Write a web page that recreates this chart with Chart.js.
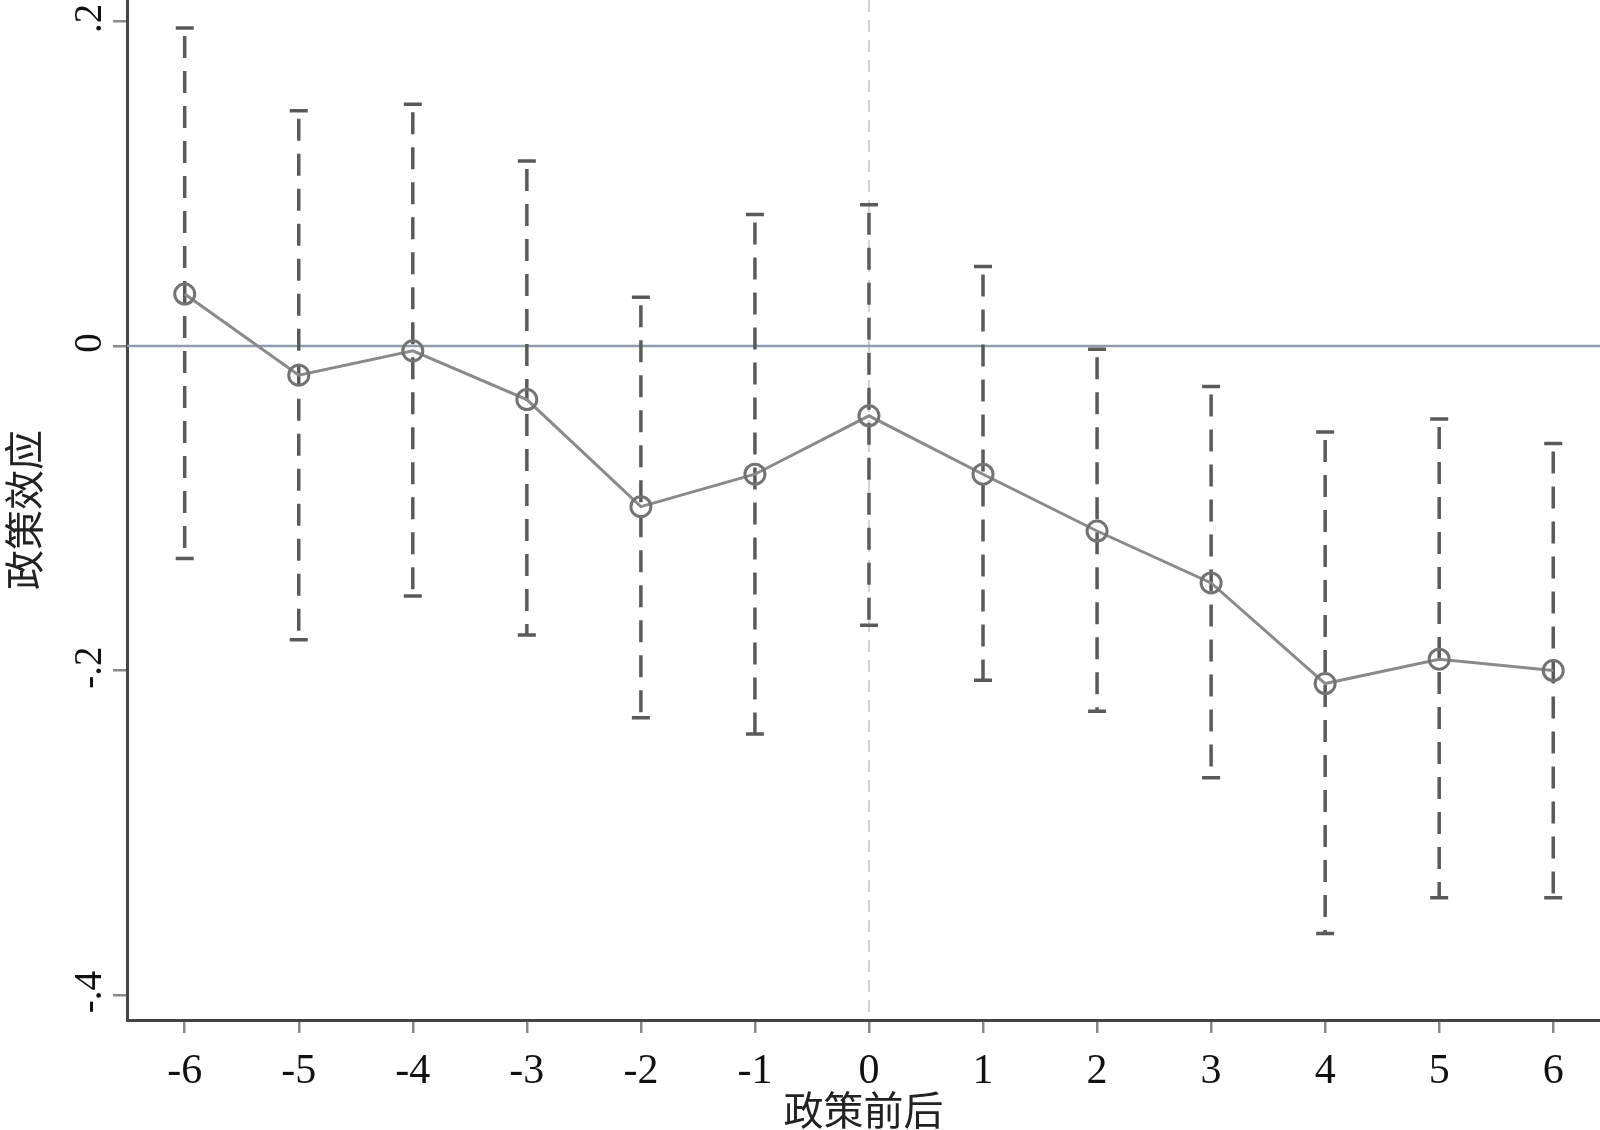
<!DOCTYPE html>
<html>
<head>
<meta charset="utf-8">
<script src="https://cdn.jsdelivr.net/npm/chart.js@4/dist/chart.umd.min.js"></script>
<style>
  html, body { margin: 0; padding: 0; background: #fff; }
  #wrap { width: 1600px; height: 1130px; }
</style>
</head>
<body>
<div id="wrap"><canvas id="chart"></canvas></div>
<script>
// event-study estimates
const periods = [-6, -5, -4, -3, -2, -1, 0, 1, 2, 3, 4, 5, 6];
const effect  = [0.032, -0.018, -0.003, -0.033, -0.099, -0.079, -0.043, -0.079, -0.114, -0.146, -0.208, -0.193, -0.200];
const ciUpper = [0.196, 0.145, 0.149, 0.114, 0.030, 0.081, 0.087, 0.049, -0.002, -0.025, -0.053, -0.045, -0.060];
const ciLower = [-0.131, -0.181, -0.154, -0.178, -0.229, -0.239, -0.172, -0.206, -0.225, -0.266, -0.362, -0.340, -0.340];

const xTicks = [-6, -5, -4, -3, -2, -1, 0, 1, 2, 3, 4, 5, 6];
const yTicks = [-0.4, -0.2, 0, 0.2];
const yTickLabels = ['-.4', '-.2', '0', '.2'];

const serif = '"Liberation Serif", "DejaVu Serif", serif';
const cjk = '"Noto Sans CJK SC", sans-serif';

// zero line, vertical policy line and dashed confidence bars
const errorBars = {
  id: 'errorBars',
  beforeDatasetsDraw(chart) {
    const {ctx, chartArea, scales: {x, y}} = chart;
    ctx.save();
    ctx.beginPath();
    ctx.rect(chartArea.left, chartArea.top, chartArea.right - chartArea.left, chartArea.bottom - chartArea.top);
    ctx.clip();

    // x = 0 reference
    const x0 = x.getPixelForValue(0);
    ctx.strokeStyle = '#c4c4c4';
    ctx.lineWidth = 1.5;
    ctx.setLineDash([12, 8]);
    ctx.beginPath();
    ctx.moveTo(x0, chartArea.top);
    ctx.lineTo(x0, chartArea.bottom);
    ctx.stroke();

    // y = 0 reference
    const y0 = y.getPixelForValue(0);
    ctx.setLineDash([]);
    ctx.strokeStyle = '#8d9db0';
    ctx.lineWidth = 2.5;
    ctx.beginPath();
    ctx.moveTo(chartArea.left, y0);
    ctx.lineTo(chartArea.right, y0);
    ctx.stroke();

    ctx.strokeStyle = '#5a5a5a';
    ctx.lineWidth = 3.5;
    periods.forEach((p, i) => {
      const px = x.getPixelForValue(p);
      const top = y.getPixelForValue(ciUpper[i]);
      const bot = y.getPixelForValue(ciLower[i]);
      ctx.setLineDash([22, 13]);
      ctx.lineDashOffset = -8;
      ctx.beginPath();
      ctx.moveTo(px, top);
      ctx.lineTo(px, bot);
      ctx.stroke();
      ctx.setLineDash([]);
      ctx.beginPath();
      ctx.moveTo(px - 9, top);
      ctx.lineTo(px + 9, top);
      ctx.moveTo(px - 9, bot);
      ctx.lineTo(px + 9, bot);
      ctx.stroke();
    });
    ctx.restore();
  },
  afterDraw(chart) {
    // rotated y tick labels
    const {ctx, scales: {y}} = chart;
    ctx.save();
    ctx.fillStyle = '#111';
    ctx.font = '39px ' + serif;
    ctx.textAlign = 'center';
    ctx.textBaseline = 'middle';
    yTicks.forEach((v, i) => {
      ctx.save();
      ctx.translate(91, y.getPixelForValue(v) - 3);
      ctx.rotate(-Math.PI / 2);
      ctx.fillText(yTickLabels[i], 0, 0);
      ctx.restore();
    });
    ctx.restore();
  }
};

const noPad = s => { s.paddingLeft = 0; s.paddingRight = 0; s.paddingTop = 0; s.paddingBottom = 0; };

new Chart(document.getElementById('chart'), {
  type: 'line',
  data: {
    datasets: [{
      data: periods.map((p, i) => ({x: p, y: effect[i]})),
      borderColor: '#8a8a8a',
      borderWidth: 3,
      tension: 0,
      pointRadius: 10,
      pointHoverRadius: 10,
      pointBorderWidth: 3,
      pointBorderColor: '#737373',
      pointBackgroundColor: 'rgba(0,0,0,0)'
    }]
  },
  options: {
    responsive: true,
    maintainAspectRatio: false,
    animation: false,
    layout: {padding: 0, autoPadding: false},
    plugins: {legend: {display: false}, tooltip: {enabled: false}},
    scales: {
      x: {
        type: 'linear',
        min: -6.506,
        max: 6.41,
        afterBuildTicks: s => { s.ticks = xTicks.map(v => ({value: v})); },
        afterFit: s => { s.height = 110; noPad(s); },
        grid: {drawOnChartArea: false, drawTicks: true, tickLength: 13, color: '#888', lineWidth: 2.5},
        border: {display: true, color: '#444', width: 3},
        ticks: {color: '#111', font: {family: serif, size: 42}, padding: 14, maxRotation: 0},
        title: {display: true, text: '政策前后', color: '#222', font: {family: cjk, size: 40}, padding: {top: 0, bottom: -4}}
      },
      y: {
        type: 'linear',
        min: -0.4153,
        max: 0.2132,
        afterBuildTicks: s => { s.ticks = yTicks.map(v => ({value: v})); },
        afterFit: s => { s.width = 127; noPad(s); },
        grid: {drawOnChartArea: false, drawTicks: true, tickLength: 14, color: '#888', lineWidth: 2.5},
        border: {display: true, color: '#444', width: 3},
        ticks: {display: false},
        title: {display: true, text: '政策效应', color: '#222', font: {family: cjk, size: 40}, padding: {top: 0, bottom: 0}}
      }
    }
  },
  plugins: [errorBars]
});
</script>
</body>
</html>
